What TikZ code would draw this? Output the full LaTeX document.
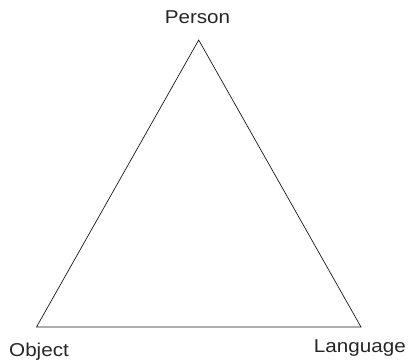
\documentclass[tikz,border=0pt]{standalone}
\usepackage{fontspec}
\setmainfont{Liberation Sans}
\begin{document}
\begin{tikzpicture}[x=1bp,y=-1bp,
  lbl/.style={inner sep=0pt,font=\fontsize{18.6bp}{20bp}\selectfont,text=black!85},
  edge/.style={line width=0.7bp,black!90}]
\useasboundingbox (0,0) rectangle (409,364);
\coordinate (P) at (198.7,40);
\coordinate (O) at (36.5,327);
\coordinate (L) at (361,327);
\node[lbl,anchor=base] (person) at (197.5,23.5) {\scalebox{1.11}[1]{Person}};
\node[lbl,anchor=base west] (object) at (9,356.5) {\scalebox{1.11}[1]{Object}};
\node[lbl,anchor=base east] (language) at (406,352.5) {\scalebox{1.11}[1]{Language}};
\draw[edge,line join=miter] (P) -- (O) -- (L) -- cycle;
\end{tikzpicture}
\end{document}
